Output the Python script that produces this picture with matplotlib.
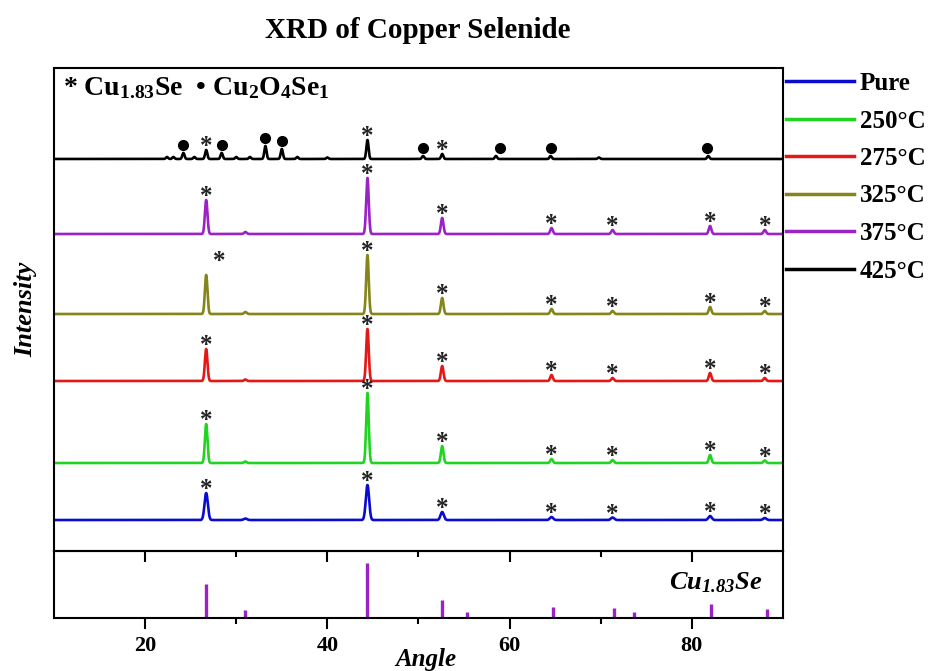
"""
XRD of copper selenide: stacked patterns for pure and annealed samples,
with the Cu1.83Se reference stick pattern below.
"""

import numpy as np
import matplotlib
matplotlib.use("Agg")
import matplotlib.pyplot as plt
from matplotlib.lines import Line2D

# ── data: peak positions (2θ, deg) and heights (a.u.) ───────────────
CU183SE_POS = [26.7, 31.0, 44.4, 52.6, 64.6, 71.3, 82.0, 88.0]
H_PURE = [27, 1.5, 35, 8, 3, 2.5, 4, 2]
H_250 = [39, 1.5, 70, 17, 4, 3, 8, 2.5]
H_275 = [32, 1.5, 52, 15, 6, 3, 8, 3]
H_325 = [39, 2, 59, 16, 5, 3, 7, 3]
H_375 = [34, 2, 56, 16, 6, 4, 8, 4]

# 425 °C sample: mixed Cu1.83Se + Cu2O4Se1
POS_425 = [22.4, 23.1, 24.2, 25.4, 26.7, 28.4, 30.0, 31.5, 33.2, 35.0,
           36.7, 40.0, 44.4, 50.5, 52.6, 58.5, 64.5, 69.8, 81.8]
H_425 = [2, 2, 6, 2, 9, 6, 2, 2, 13, 10,
         2, 1.5, 19, 3, 5, 3, 3, 1.5, 3]

# phase markers
STARS = [26.7, 44.4, 52.6, 64.6, 71.3, 82.0, 88.0]
STARS_425 = [26.7, 44.4, 52.6]
DOTS_425 = [24.2, 28.4, 33.2, 35.0, 50.5, 58.9, 64.5, 81.7]

# Cu1.83Se reference pattern
REF_POS = [26.7, 31.0, 44.4, 52.6, 55.3, 64.8, 71.5, 73.6, 82.1, 88.2]
REF_INT = [62, 15, 100, 33, 11, 20, 18, 11, 25, 16]

LABELS = ["Pure", "250°C", "275°C", "325°C", "375°C", "425°C"]

# ── style ───────────────────────────────────────────────────────────
COLORS = ["#0b0bd0", "#22d422", "#e61717", "#85851c", "#9b22c4", "#000000"]
OFFSETS = [31, 88, 170, 237, 317, 392]
SIGMAS = [0.18, 0.14, 0.14, 0.14, 0.14, 0.13]

plt.rcParams.update({
    "font.family": "Liberation Serif",
    "font.weight": "bold",
    "mathtext.fontset": "custom",
    "mathtext.rm": "Liberation Serif:bold",
    "mathtext.bf": "Liberation Serif:bold",
    "mathtext.it": "Liberation Serif:bold:italic",
    "mathtext.bfit": "Liberation Serif:bold:italic",
    "axes.linewidth": 1.5,
})

x = np.linspace(10, 90, 6001)


def pattern(pos, heights, sigma):
    y = np.zeros_like(x)
    for p, h in zip(pos, heights):
        y += h * np.exp(-0.5 * ((x - p) / sigma) ** 2)
    return y


def top_near(y, xc, win=0.6):
    m = np.abs(x - xc) <= win
    return y[m].max()


fig = plt.figure(figsize=(9.36, 6.71), dpi=100)
ax = fig.add_axes([0.0577, 0.1788, 0.7788, 0.7199])
ax_ref = fig.add_axes([0.0577, 0.0790, 0.7788, 0.0998], sharex=ax)
ax_ref.set_facecolor("none")

series = [H_PURE, H_250, H_275, H_325, H_375]
star_kw = dict(ha="center", va="baseline", fontsize=18, fontweight="bold",
               color="#222222")

for i, h in enumerate(series):
    y = OFFSETS[i] + pattern(CU183SE_POS, h, SIGMAS[i])
    ax.plot(x, y, color=COLORS[i], lw=1.9)
    for s in STARS:
        dx, dy = 0, 0
        if LABELS[i] == "325°C" and s == 26.7:
            dx, dy = 1.4, 10
        ax.text(s + dx, top_near(y, s) - 3 + dy, "*", **star_kw)

# 425 °C trace
y425 = OFFSETS[5] + pattern(POS_425, H_425, 0.12)
ax.plot(x, y425, color=COLORS[5], lw=1.9)
for s in STARS_425:
    ax.text(s, top_near(y425, s, 0.3) - 3, "*", **star_kw)
for d in DOTS_425:
    ax.plot(d, top_near(y425, d, 0.5) + 8, "o", color="black", ms=7)

ax.set_xlim(10, 90)
ax.set_ylim(0, 483)
ax.set_yticks([])
ax.tick_params(axis="x", which="both", bottom=True, direction="out",
               labelbottom=False, width=1.5)
ax.tick_params(axis="x", which="major", length=8)
ax.tick_params(axis="x", which="minor", length=4)
ax.set_xticks([20, 40, 60, 80])
ax.set_xticks([30, 50, 70], minor=True)
ax.set_ylabel("Intensity", fontsize=19, fontweight="bold", style="italic",
              labelpad=12)

ax.text(0.012, 0.958,
        r"* $\mathbf{Cu_{1.83}Se}$  • $\mathbf{Cu_2O_4Se_1}$",
        transform=ax.transAxes, ha="left", va="center", fontsize=20)

# reference sticks
ax_ref.vlines(REF_POS, 0, REF_INT, color="#9b22c4", lw=2.4)
ax_ref.set_ylim(0, 122)
ax_ref.set_yticks([])
ax_ref.tick_params(axis="x", which="both", direction="out", width=1.5,
                   labelsize=16)
ax_ref.tick_params(axis="x", which="major", length=8, pad=5)
ax_ref.tick_params(axis="x", which="minor", length=4)
ax_ref.text(0.972, 0.52, r"$\mathbfit{Cu_{1.83}Se}$", transform=ax_ref.transAxes,
            ha="right", va="center", fontsize=19)
ax_ref.set_xlabel("Angle", fontsize=18, fontweight="bold", style="italic")
ax_ref.xaxis.set_label_coords(0.51, -0.45)
ax_ref.xaxis.label.set_va("top")

# title
fig.text(0.446, 1 - 30 / 671, "XRD of Copper Selenide", ha="center",
         va="center", fontsize=21, fontweight="bold")

# legend outside on the right
handles = [Line2D([], [], color=c, lw=2.5) for c in COLORS]
fig.legend(handles, LABELS, loc="upper left",
           bbox_to_anchor=(786 / 936, 1 - 72 / 671), frameon=False,
           fontsize=18, handlelength=2.7, handletextpad=0.25,
           labelspacing=0.58, borderpad=0, borderaxespad=0)

fig.savefig("out.png", dpi=100)
plt.close(fig)
